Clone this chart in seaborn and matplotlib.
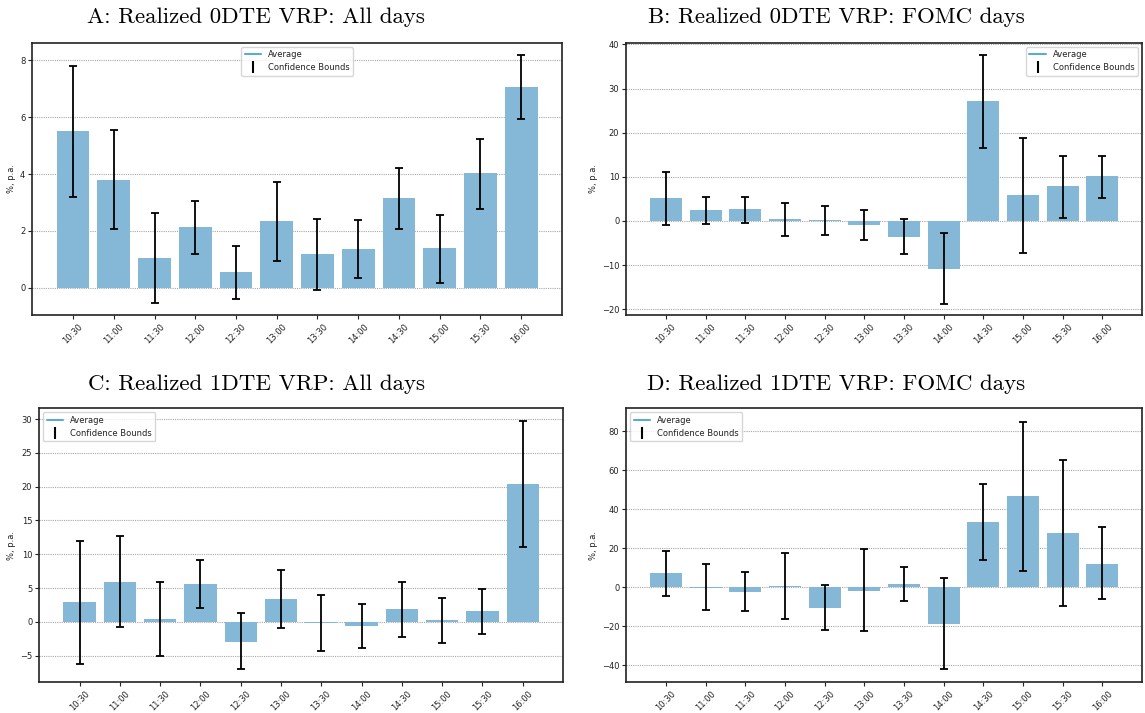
import numpy as np
import pandas as pd
import matplotlib
matplotlib.use("Agg")
import matplotlib.pyplot as plt
import seaborn as sns
from matplotlib.lines import Line2D

times = ["10:30", "11:00", "11:30", "12:00", "12:30", "13:00",
         "13:30", "14:00", "14:30", "15:00", "15:30", "16:00"]

# Panel A: 0DTE, all days
avg_0dte_all = [5.5, 3.8, 1.05, 2.15, 0.55, 2.35, 1.2, 1.37, 3.15, 1.4, 4.05, 7.05]
lo_0dte_all = [3.2, 2.05, -0.55, 1.18, -0.38, 0.93, -0.08, 0.33, 2.07, 0.18, 2.78, 5.93]
hi_0dte_all = [7.8, 5.55, 2.62, 3.05, 1.47, 3.72, 2.43, 2.37, 4.22, 2.56, 5.24, 8.2]

# Panel B: 0DTE, FOMC days
avg_0dte_fomc = [5.1, 2.4, 2.6, 0.35, 0.1, -1.0, -3.7, -11.0, 27.2, 5.8, 7.85, 10.1]
lo_0dte_fomc = [-0.9, -0.6, -0.4, -3.5, -3.3, -4.3, -7.6, -18.8, 16.6, -7.2, 0.7, 5.3]
hi_0dte_fomc = [11.1, 5.5, 5.5, 4.1, 3.3, 2.4, 0.5, -2.8, 37.6, 18.7, 14.8, 14.8]

# Panel C: 1DTE, all days
avg_1dte_all = [2.9, 5.9, 0.4, 5.6, -3.0, 3.4, -0.1, -0.6, 1.9, 0.25, 1.6, 20.4]
lo_1dte_all = [-6.2, -0.8, -5.0, 2.0, -7.0, -0.9, -4.3, -3.9, -2.2, -3.1, -1.8, 11.0]
hi_1dte_all = [12.0, 12.7, 5.9, 9.1, 1.25, 7.6, 4.0, 2.7, 5.9, 3.6, 4.9, 29.7]

# Panel D: 1DTE, FOMC days
avg_1dte_fomc = [7.3, -0.3, -2.4, 0.7, -10.5, -1.8, 1.7, -18.8, 33.5, 46.8, 27.8, 12.0]
lo_1dte_fomc = [-4.4, -11.6, -12.2, -16.5, -22.1, -22.6, -7.0, -42.1, 13.8, 8.5, -9.7, -6.3]
hi_1dte_fomc = [18.6, 12.0, 8.0, 17.7, 0.9, 19.7, 10.3, 4.6, 52.7, 85.0, 65.0, 30.6]

titles = ["A: Realized 0DTE VRP: All days",
          "B: Realized 0DTE VRP: FOMC days",
          "C: Realized 1DTE VRP: All days",
          "D: Realized 1DTE VRP: FOMC days"]

sns.set_style("ticks")
plt.rcParams["font.family"] = ["DejaVu Sans"]

BAR = "#85b8d6"
LINE = "#5fa8d8"

fig = plt.figure(figsize=(11.45, 7.13), dpi=100)

panels = [
    dict(avg=avg_0dte_all, lo=lo_0dte_all, hi=hi_0dte_all, title=titles[0],
         rect=[0.0282, 0.5578, 0.4626, 0.3823], ylim=(-0.97, 8.62),
         loc="upper center", tx=256, ty=17),
    dict(avg=avg_0dte_fomc, lo=lo_0dte_fomc, hi=hi_0dte_fomc, title=titles[1],
         rect=[0.547, 0.5578, 0.4504, 0.3823], ylim=(-21.4, 40.4),
         loc="upper right", tx=836, ty=17),
    dict(avg=avg_1dte_all, lo=lo_1dte_all, hi=hi_1dte_all, title=titles[2],
         rect=[0.0343, 0.0435, 0.4574, 0.3839], ylim=(-8.9, 31.6),
         loc="upper left", tx=256, ty=384),
    dict(avg=avg_1dte_fomc, lo=lo_1dte_fomc, hi=hi_1dte_fomc, title=titles[3],
         rect=[0.547, 0.0435, 0.4504, 0.3839], ylim=(-48.7, 91.8),
         loc="upper left", tx=836, ty=384),
]

for p in panels:
    ax = fig.add_axes(p["rect"])
    avg = np.array(p["avg"])
    lo = np.array(p["lo"])
    hi = np.array(p["hi"])
    df = pd.DataFrame({"time": times, "avg": avg})
    sns.barplot(data=df, x="time", y="avg", color=BAR, saturation=1,
                errorbar=None, width=0.8, linewidth=0, ax=ax, zorder=2)
    ax.errorbar(np.arange(len(times)), avg, yerr=[avg - lo, hi - avg],
                fmt="none", ecolor="black", elinewidth=1.3, capsize=3,
                capthick=1.3, zorder=3)
    ax.set_xlim(-1, 12)
    ax.set_ylim(*p["ylim"])
    ax.yaxis.grid(True, linestyle=(0, (1, 1)), color="#a8a8a8", linewidth=0.8)
    ax.set_axisbelow(True)
    ax.set_xlabel("")
    ax.set_ylabel("%, p.a.", fontsize=6, labelpad=3, color="#222222")
    ax.tick_params(axis="both", labelsize=6, length=3, width=0.8, pad=2,
                   colors="#222222")
    for lab in ax.get_xticklabels():
        lab.set_rotation(45)
    for s in ax.spines.values():
        s.set_linewidth(1.2)
        s.set_color("#222222")
    handles = [Line2D([], [], color=LINE, lw=1.5),
               Line2D([], [], color="black", lw=0, marker="|",
                      markersize=8, markeredgewidth=1.5)]
    ax.legend(handles, ["Average", "Confidence Bounds"], loc=p["loc"],
              fontsize=6, frameon=True, fancybox=True, framealpha=0.8,
              edgecolor="#cccccc", handlelength=2.0, borderpad=0.4,
              labelcolor="#222222")
    fig.text(p["tx"] / 1145, 1 - p["ty"] / 713, p["title"], ha="center",
             va="center", fontsize=16.5, family="cmr10", color="black")

fig.savefig("out.png", dpi=100)
